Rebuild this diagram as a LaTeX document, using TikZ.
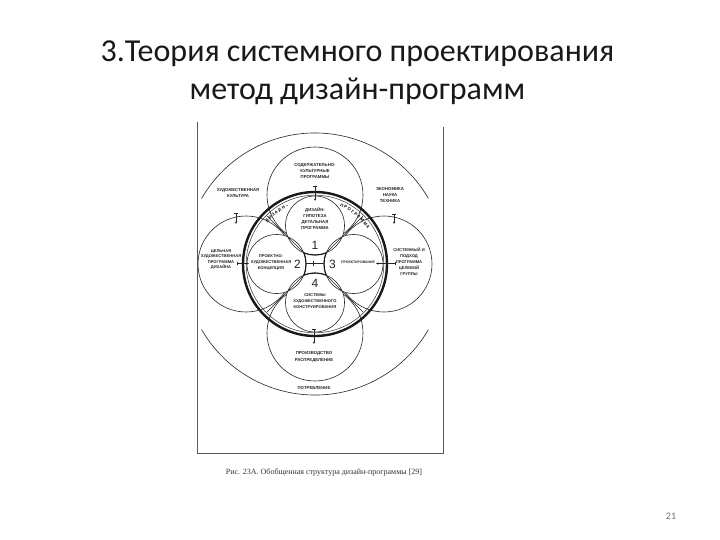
\documentclass[tikz,border=0pt]{standalone}
\usepackage{fontspec}
\setmainfont{Liberation Serif}
\newfontfamily\titlefont{Carlito}
\newfontfamily\lblfont{Liberation Sans}
\usetikzlibrary{arrows.meta,decorations.text,calc}
\newcommand\myringfont{\lblfont\bfseries\fontsize{4.2}{5}\selectfont}
\begin{document}
\begin{tikzpicture}[x=1pt,y=-1pt]
\tikzset{
  ln/.style={line width=0.6pt, draw=black!85},
  lbl/.style={font=\lblfont\bfseries\fontsize{4.3}{6}\selectfont, inner sep=0pt, text=black!85, align=center},
  num/.style={font=\lblfont\fontsize{12}{12}\selectfont, inner sep=0pt, text=black!85},
  tk/.style={line width=0.6pt, draw=black!85, {Bar[width=3.5pt,line width=0.6pt]}-{Stealth[length=2.5pt,width=2.2pt]}},
  frame/.style={line width=1pt, draw=black!65},
}
\useasboundingbox (0,0) rectangle (720,540);
\fill[white] (0,0) rectangle (720,540);

% title
\node[font=\titlefont\fontsize{32}{38}\selectfont, anchor=base, text=black!90] (t1) at (357.5,62) {3.Теория системного проектирования};
\node[font=\titlefont\fontsize{32}{38}\selectfont, anchor=base, text=black!90] (t2) at (357.5,100) {метод дизайн-программ};

% frame of the scan
\coordinate (f1) at (197,122);
\coordinate (f2) at (197,453);
\coordinate (f3) at (443,453);
\coordinate (f4) at (443,127);
\draw[frame] (f1) -- (f2) -- (f3) -- (f4);

% centres
\coordinate (C) at (315,264);
\coordinate (Ti) at (315,225.5);
\coordinate (Bi) at (315,302.5);
\coordinate (Li) at (276.5,264);
\coordinate (Ri) at (353.5,264);
\coordinate (Ts) at (315,195);
\coordinate (Bs) at (315,333);
\coordinate (Ls) at (246,264);
\coordinate (Rs) at (384,264);

% outer arcs
\draw[ln] (C) ++(30:131pt) arc[start angle=30,end angle=150,radius=131pt];
\draw[ln] (C) ++(210:131pt) arc[start angle=210,end angle=330,radius=131pt];

% satellite circles
\foreach \p in {Ts,Bs,Ls,Rs} \draw[ln] (\p) circle[radius=48pt];

% inner circles
\foreach \p in {Ti,Bi,Li,Ri} \fill[white] (\p) circle[radius=29.5pt];
\foreach \p in {Ti,Bi,Li,Ri} \draw[ln] (\p) circle[radius=29.5pt];

% thick ring
\draw[line width=2.4pt, draw=black!90] (C) circle[radius=72pt];
\draw[line width=0.5pt, draw=black!80] (C) circle[radius=68.8pt];

% bold central arcs
\draw[line width=1.1pt, draw=black!90] (Ti) ++(-112.4:29.5pt) arc[start angle=-112.4,end angle=-67.6,radius=29.5pt];
\draw[line width=1.1pt, draw=black!90] (Bi) ++(67.6:29.5pt) arc[start angle=67.6,end angle=112.4,radius=29.5pt];
\draw[line width=1.1pt, draw=black!90] (Li) ++(-22.4:29.5pt) arc[start angle=-22.4,end angle=22.4,radius=29.5pt];
\draw[line width=1.1pt, draw=black!90] (Ri) ++(157.6:29.5pt) arc[start angle=157.6,end angle=202.4,radius=29.5pt];

% diagonals
\foreach \a/\n in {45/a,135/b,225/c,315/d} {
  \coordinate (o\n) at ($(C)+(\a:68pt)$);
  \coordinate (i\n) at ($(C)+(\a:15.9pt)$);
}
\draw[ln] (oa) -- (ia);
\draw[ln] (ob) -- (ib);
\draw[ln] (oc) -- (ic);
\draw[ln] (od) -- (id);

% ring texts (letter-spaced)
\path[decorate, decoration={text along path, text align=center, text={|\myringfont|Д И З А Й Н –}}]
  (C) ++(150:63pt) arc[start angle=150, end angle=104, radius=63pt];
\path[decorate, decoration={text along path, text align=center, text={|\myringfont|П Р О Г Р А М М А}}]
  (C) ++(78:63pt) arc[start angle=78, end angle=22, radius=63pt];

% numbers
\node[num] (n1) at (315,245) {1};
\node[num] (n2) at (297.5,264) {2};
\node[num] (n3) at (332.5,264) {3};
\node[num] (n4) at (315,283) {4};

% central link
\coordinate (cl) at (306,263.5);
\coordinate (cr) at (324,263.5);
\coordinate (ct1) at (313,261);
\coordinate (ct2) at (313,266);
\draw[ln] (cl) -- (cr);
\draw[ln] (ct1) -- (ct2);

% ticks / arrows
\coordinate (tt1) at (315,186); \coordinate (tt2) at (315,201);
\coordinate (bt1) at (314,329); \coordinate (bt2) at (314,344);
\coordinate (lt1) at (236,213); \coordinate (lt2) at (236,224);
\coordinate (rt1) at (394,214); \coordinate (rt2) at (394,224);
\coordinate (lh1) at (237,263.5); \coordinate (lh2) at (249,263.5);
\coordinate (rh1) at (396,263.5); \coordinate (rh2) at (376,263.5);
\draw[tk] (tt1) -- (tt2);
\draw[tk] (bt1) -- (bt2);
\draw[tk] (lt1) -- (lt2);
\draw[tk] (rt1) -- (rt2);
\draw[tk] (lh1) -- (lh2);
\draw[tk] (rh1) -- (rh2);

% labels
\node[lbl] (sTop) at (315,171.5) {СОДЕРЖАТЕЛЬНО-\\КУЛЬТУРНЫЕ\\ПРОГРАММЫ};
\node[lbl] (hk) at (238,193.5) {ХУДОЖЕСТВЕННАЯ\\КУЛЬТУРА};
\node[lbl] (ent) at (390,195) {ЭКОНОМИКА\\НАУКА\\ТЕХНИКА};
\node[lbl] (iTop) at (315,219) {ДИЗАЙН-\\ГИПОТЕЗА\\ДЕТАЛЬНАЯ\\ПРОГРАММА};
\node[lbl, font=\lblfont\bfseries\fontsize{4.1}{5.6}\selectfont] (iLeft) at (271,262.5) {ПРОЕКТНО-\\ХУДОЖЕСТВЕННАЯ\\КОНЦЕПЦИЯ};
\node[lbl, font=\lblfont\bfseries\fontsize{3.5}{5}\selectfont] (iRight) at (358,262.5) {ПРОЕКТИРОВАНИЕ};
\node[lbl, font=\lblfont\bfseries\fontsize{4.1}{5.6}\selectfont] (sLeft) at (221,259.5) {ЦЕЛЬНАЯ\\ХУДОЖЕСТВЕННАЯ\\ПРОГРАММА\\ДИЗАЙНА};
\node[lbl, font=\lblfont\bfseries\fontsize{4.1}{6}\selectfont] (sRight) at (409,262) {СИСТЕМНЫЙ И\\ПОДХОД\\ПРОГРАММА\\ЦЕЛЕВОЙ\\ГРУППЫ};
\node[lbl, font=\lblfont\bfseries\fontsize{4.1}{6}\selectfont] (iBot) at (315,301) {СИСТЕМЫ\\ХУДОЖЕСТВЕННОГО\\КОНСТРУИРОВАНИЯ};
\node[lbl, font=\lblfont\bfseries\fontsize{4.3}{7.5}\selectfont] (sBot) at (314,357) {ПРОИЗВОДСТВО\\РАСПРЕДЕЛЕНИЕ};
\node[lbl] (potr) at (314,388) {ПОТРЕБЛЕНИЕ};

% caption and page number
\node[font=\fontsize{8}{8}\selectfont, text=black!80, inner sep=0pt] (cap) at (324,472) {Рис. 23А. Обобщенная структура дизайн-программы [29]};
\node[font=\titlefont\fontsize{10}{10}\selectfont, text=black!55, inner sep=0pt] (pg) at (671,516) {21};
\end{tikzpicture}
\end{document}
